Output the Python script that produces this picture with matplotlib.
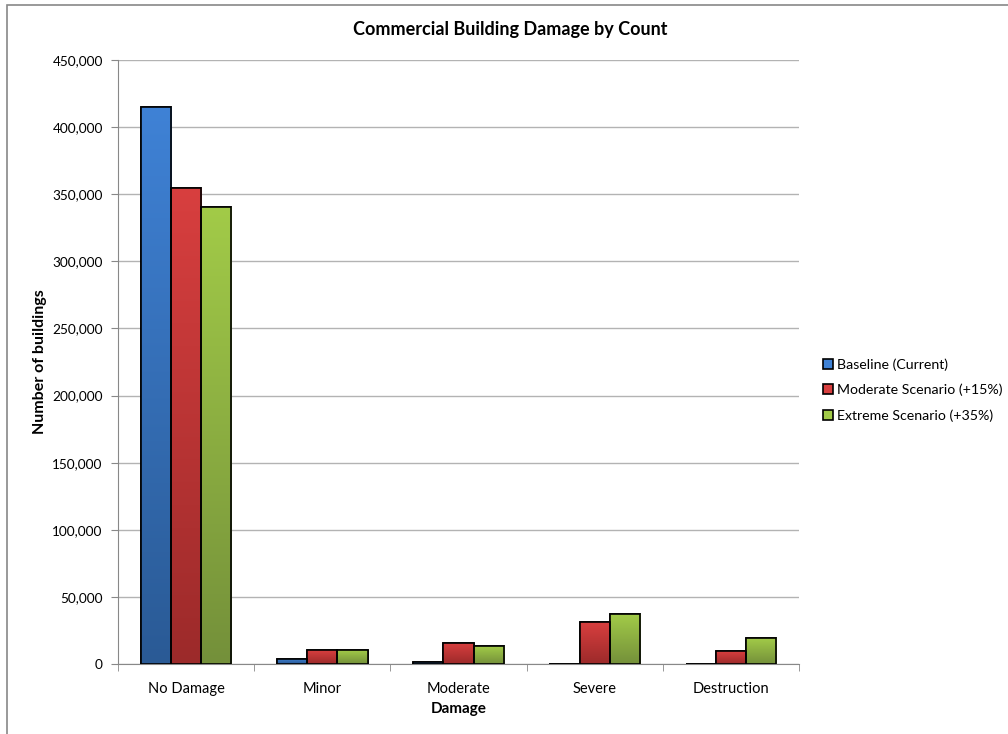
import numpy as np
import matplotlib
matplotlib.use('Agg')
import matplotlib.pyplot as plt
from matplotlib.colors import LinearSegmentedColormap
from matplotlib.patches import Rectangle
from matplotlib.ticker import FuncFormatter

categories = ['No Damage', 'Minor', 'Moderate', 'Severe', 'Destruction']
series_names = ['Baseline (Current)', 'Moderate Scenario (+15%)', 'Extreme Scenario (+35%)']
baseline = [415000, 3900, 1500, 300, 300]
moderate = [355000, 10100, 15600, 31000, 9400]
extreme = [340500, 10100, 13400, 37000, 19100]

# (top colour, bottom colour) for the gradient fill
shades = [('#3f82d6', '#2a5a95'),
          ('#d83f3f', '#9c2a2a'),
          ('#a2cb48', '#74903a')]

plt.rcParams['font.family'] = ['Lato', 'DejaVu Sans']

fig = plt.figure(figsize=(10.08, 7.34), dpi=100)
ax = fig.add_axes([118 / 1008, 70 / 734, 681 / 1008, 604 / 734])

# chart border
fig.patches.append(Rectangle((7 / 1008, -0.1), 1.2, (734 - 5) / 734 + 0.1,
                             transform=fig.transFigure, fill=False,
                             edgecolor='#888888', linewidth=1.2))

x = np.arange(len(categories))
width = 0.222
grad = np.linspace(0, 1, 256).reshape(-1, 1)

for i, (vals, name) in enumerate(zip([baseline, moderate, extreme], series_names)):
    top, bottom = shades[i]
    cmap = LinearSegmentedColormap.from_list(name, [bottom, top])
    bars = ax.bar(x + (i - 1) * width, vals, width, color=top, edgecolor='black',
                  linewidth=1.2, label=name, zorder=3)
    for b in bars:
        x0, h = b.get_x(), b.get_height()
        im = ax.imshow(grad, extent=[x0, x0 + b.get_width(), 0, h], origin='lower',
                       aspect='auto', cmap=cmap, zorder=3.1)
        im.set_clip_path(b)
        # redraw outline above gradient
        ax.add_patch(Rectangle((x0, 0), b.get_width(), h, fill=False,
                               edgecolor='black', linewidth=1.2, zorder=3.2))

ax.set_xlim(-0.5, 4.5)
ax.set_ylim(0, 450000)
ax.set_yticks(np.arange(0, 450001, 50000))
ax.yaxis.set_major_formatter(FuncFormatter(lambda v, p: f'{int(v):,}'))
ax.grid(axis='y', color='#b3b3b3', linewidth=1, zorder=0)
ax.set_axisbelow(True)

ax.set_xticks(x)
ax.set_xticklabels(categories)
ax.set_xticks(np.arange(-0.5, 5, 1), minor=True)
ax.tick_params(axis='x', which='major', length=0, pad=13, labelsize=10.5)
ax.tick_params(axis='x', which='minor', length=5, color='#888888')
ax.tick_params(axis='y', length=5, color='#888888', labelsize=9.8, pad=6)

for side in ['top', 'right']:
    ax.spines[side].set_visible(False)
for side in ['left', 'bottom']:
    ax.spines[side].set_color('#888888')

ax.set_xlabel('Damage', fontsize=11, fontweight='bold', labelpad=4)
ax.set_ylabel('Number of buildings', fontsize=11.5, fontweight='bold', labelpad=4)
fig.text(510 / 1008, 1 - 30 / 734, 'Commercial Building Damage by Count',
         ha='center', va='center', fontsize=13, fontweight='bold')

handles, labels = ax.get_legend_handles_labels()
fig.legend(handles, labels, loc='center left', bbox_to_anchor=(823 / 1008, 1 - 390 / 734),
           frameon=False, fontsize=10.2, handlelength=0.7, handleheight=0.7,
           handletextpad=0.3, labelspacing=0.93, borderpad=0, borderaxespad=0)

fig.savefig('out.png', dpi=100)
